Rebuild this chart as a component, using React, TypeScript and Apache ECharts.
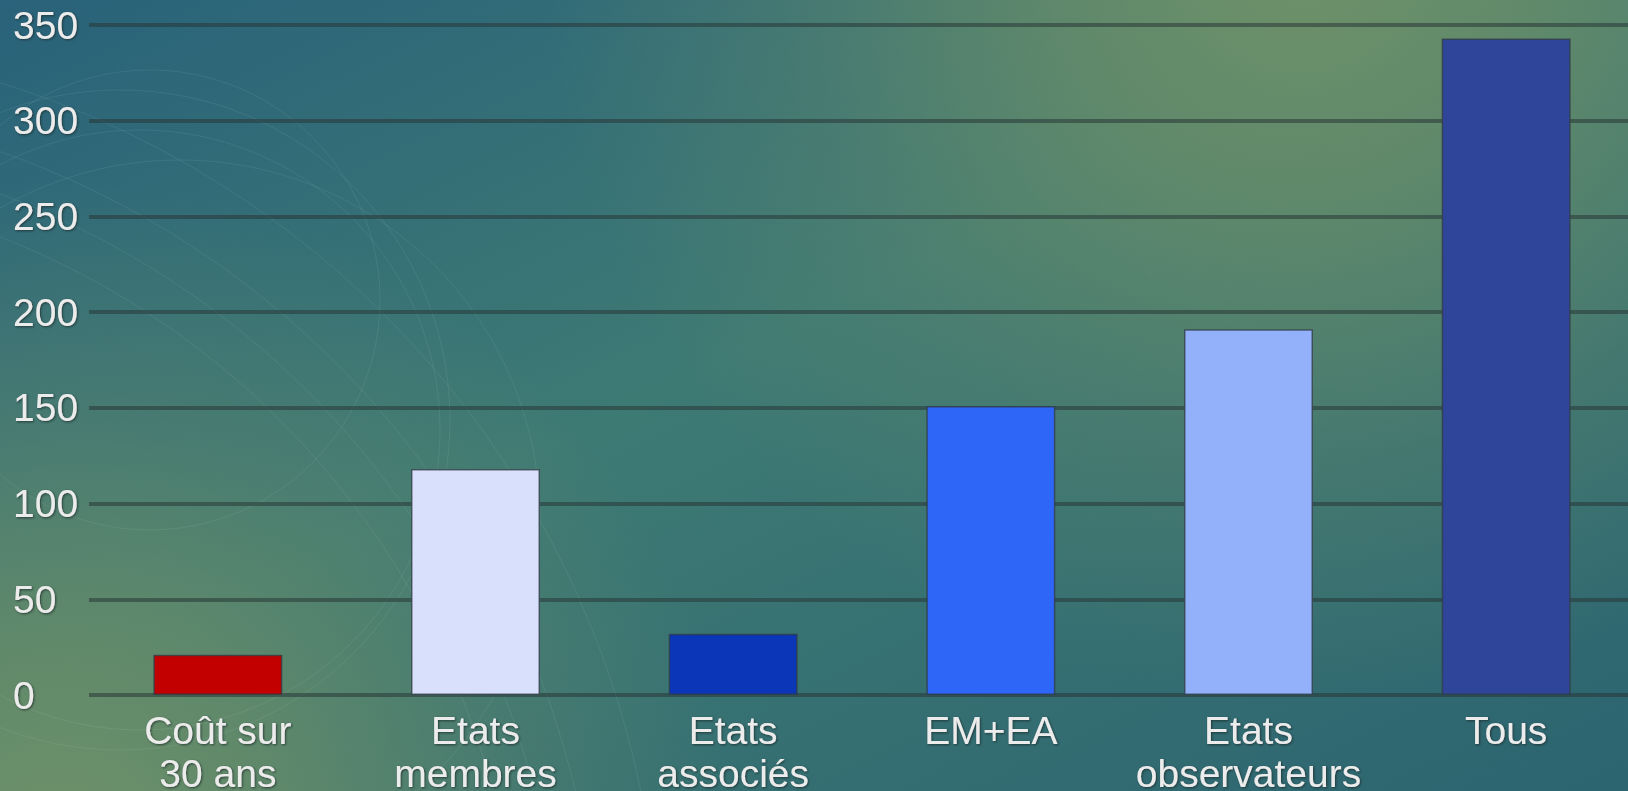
import React, { useEffect, useRef } from "react";
import * as echarts from "echarts";

const categories = ["Coût sur\n30 ans", "Etats\nmembres", "Etats\nassociés", "EM+EA", "Etats\nobservateurs", "Tous"];
const values = [21, 118, 32, 151, 191, 343];
const barColors = ["#c30000", "#d8e0fc", "#0b36b8", "#2e66f8", "#93b1fb", "#2e4599"];
const yTicks = { min: 0, max: 350, interval: 50 };

export default function App() {
  const ref = useRef<HTMLDivElement>(null);
  useEffect(() => {
    if (!ref.current) return;
    const chart = echarts.init(ref.current, undefined, { renderer: "svg" });
    const textStyle = {
      color: "#ececec",
      fontFamily: "'Liberation Sans', Arial, sans-serif",
      textShadowColor: "rgba(30,40,40,0.75)",
      textShadowBlur: 2,
      textShadowOffsetX: 1,
      textShadowOffsetY: 1,
    };
    const glow = (cx: number, cy: number, r: number) => ({
      type: "rect",
      silent: true,
      z: -20,
      shape: { x: 0, y: 0, width: 1628, height: 791 },
      style: {
        fill: new echarts.graphic.RadialGradient(cx, cy, r, [
          { offset: 0, color: "rgba(112,146,104,1)" },
          { offset: 0.35, color: "rgba(106,142,104,0.75)" },
          { offset: 0.7, color: "rgba(100,138,106,0.3)" },
          { offset: 1, color: "rgba(100,138,106,0)" },
        ], true),
      },
    });
    const arcs: any[] = [];
    const arcDefs = [
      [-300, 1000, 820], [-300, 1000, 860], [-300, 1000, 900], [-280, 980, 940],
      [120, 420, 330], [140, 430, 300], [150, 300, 230], [180, 520, 360],
    ];
    arcDefs.forEach(([cx, cy, r]) => {
      arcs.push({
        type: "circle",
        silent: true,
        z: -5,
        shape: { cx, cy, r },
        style: { fill: "none", stroke: "rgba(255,255,255,0.07)", lineWidth: 1 },
      });
    });
    chart.setOption({
      animation: false,
      backgroundColor: new echarts.graphic.LinearGradient(0, 0, 1, 1, [
        { offset: 0, color: "#29627a" },
        { offset: 0.45, color: "#3e7a74" },
        { offset: 1, color: "#2c6470" },
      ]),
      graphic: [glow(1300, -60, 760), glow(60, 860, 680), ...arcs],
      grid: { left: 89, top: 25, width: 1546, height: 670, containLabel: false, outerBoundsMode: "none" },
      xAxis: {
        type: "category",
        data: categories,
        axisLine: { show: false },
        axisTick: { show: false },
        axisLabel: {
          ...textStyle,
          fontSize: 39,
          lineHeight: 43,
          margin: 14,
          interval: 0,
        },
      },
      yAxis: {
        type: "value",
        min: yTicks.min,
        max: yTicks.max,
        interval: yTicks.interval,
        axisLine: { show: false },
        axisTick: { show: false },
        splitLine: { lineStyle: { color: "rgba(40,55,55,0.55)", width: 4 } },
        axisLabel: {
          ...textStyle,
          fontSize: 39,
          align: "left",
          margin: 76,
        },
      },
      series: [
        {
          type: "bar",
          barWidth: 129,
          data: values.map((v, i) => ({
            value: v,
            itemStyle: { color: barColors[i], borderColor: "rgba(50,60,70,0.75)", borderWidth: 1.5 },
          })),
        },
      ],
    });
    return () => chart.dispose();
  }, []);
  return <div ref={ref} style={{ position: "fixed", left: 0, top: 0, width: 1628, height: 791 }} />;
}
